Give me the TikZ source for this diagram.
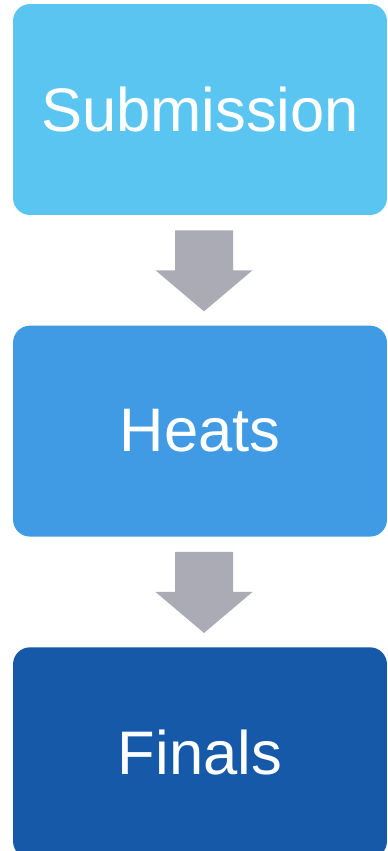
\documentclass[tikz,border=0pt]{standalone}
\usepackage{fontspec}
\setmainfont{Liberation Sans}
\usetikzlibrary{positioning,calc}

\definecolor{subblue}{RGB}{91,197,242}
\definecolor{heatblue}{RGB}{64,155,228}
\definecolor{finblue}{RGB}{21,89,168}
\definecolor{arrowgray}{RGB}{171,171,181}

\tikzset{
  stagebox/.style={rectangle,rounded corners=0.34cm,minimum width=7.48cm,
    minimum height=4.22cm,inner sep=0pt,text=white,
    font=\fontsize{35}{42}\selectfont},
  flowarrow/.style={fill=arrowgray}
}

\begin{document}
\begin{tikzpicture}[x=0.02cm,y=-0.02cm]
  \useasboundingbox (0,0) rectangle (387,851);
  \node[stagebox,fill=subblue] (sub) at (200,109.5) {Submission};
  \node[stagebox,fill=heatblue,below=2.2cm of sub] (heats) {Heats};
  \node[stagebox,fill=finblue,below=2.2cm of heats] (fin) {Finals};
  % block arrows between the stages
  \coordinate (a1) at ($(sub.south)+(4,0)$);
  \coordinate (a2) at ($(heats.south)+(4,0)$);
  \fill[flowarrow] (a1) ++(-29,15) -- ++(58,0) -- ++(0,40) -- ++(19.5,0)
    -- ++(-48.5,41) -- ++(-48.5,-41) -- ++(19.5,0) -- cycle;
  \fill[flowarrow] (a2) ++(-29,15) -- ++(58,0) -- ++(0,40) -- ++(19.5,0)
    -- ++(-48.5,41) -- ++(-48.5,-41) -- ++(19.5,0) -- cycle;
\end{tikzpicture}
\end{document}
